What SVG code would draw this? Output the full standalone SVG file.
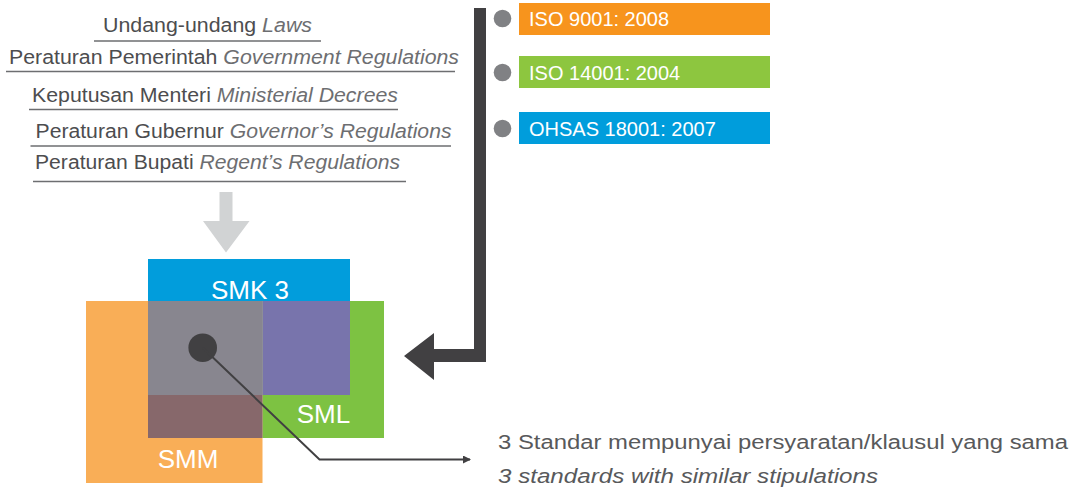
<svg xmlns="http://www.w3.org/2000/svg" width="1073" height="489" viewBox="0 0 1073 489">
<style>
.law{font-family:"Liberation Sans",Arial,sans-serif;font-size:20px;fill:#4D4D4F}
.it{font-style:italic;fill:#6D6E71}
.ul{stroke:#6D6E71;stroke-width:1.5}
.std{font-family:"Liberation Sans",Arial,sans-serif;font-size:20px;fill:#FFFFFF}
.lbl{font-family:"Liberation Sans",Arial,sans-serif;font-size:26px;fill:#FFFFFF;text-anchor:middle}
.bul{fill:#808184}
.note{font-family:"Liberation Sans",Arial,sans-serif;font-size:20px;fill:#58595B}
</style>
<defs>
<marker id="ah" markerWidth="8" markerHeight="8" refX="7" refY="4" orient="auto" markerUnits="userSpaceOnUse">
<path d="M0,0 L8,4 L0,8 Z" fill="#414042"/>
</marker>
</defs>
<rect width="1073" height="489" fill="#FFFFFF"/>

<g id="laws">
<text class="law" x="103" y="31.5" textLength="209" lengthAdjust="spacingAndGlyphs">Undang-undang <tspan class="it">Laws</tspan></text>
<line class="ul" x1="94" y1="41" x2="321" y2="41"/>
<text class="law" x="9" y="64" textLength="450" lengthAdjust="spacingAndGlyphs">Peraturan Pemerintah <tspan class="it">Government Regulations</tspan></text>
<line class="ul" x1="6" y1="71.5" x2="455" y2="71.5"/>
<text class="law" x="32" y="101.5" textLength="366" lengthAdjust="spacingAndGlyphs">Keputusan Menteri <tspan class="it">Ministerial Decrees</tspan></text>
<line class="ul" x1="29" y1="109.5" x2="398" y2="109.5"/>
<text class="law" x="35.5" y="138" textLength="416" lengthAdjust="spacingAndGlyphs">Peraturan Gubernur <tspan class="it">Governor’s Regulations</tspan></text>
<line class="ul" x1="30.5" y1="146" x2="451" y2="146"/>
<text class="law" x="35" y="168.5" textLength="365" lengthAdjust="spacingAndGlyphs">Peraturan Bupati <tspan class="it">Regent’s Regulations</tspan></text>
<line class="ul" x1="33" y1="181.5" x2="406" y2="181.5"/>
</g>

<g id="standards">
<circle class="bul" cx="502.5" cy="18.5" r="8.8"/>
<rect x="519" y="3" width="251" height="32" fill="#F7941D"/>
<text class="std" x="529" y="26">ISO 9001: 2008</text>
<circle class="bul" cx="502.5" cy="72.5" r="8.8"/>
<rect x="519" y="56" width="251" height="32" fill="#8DC63F"/>
<text class="std" x="529" y="80">ISO 14001: 2004</text>
<circle class="bul" cx="502.5" cy="128.5" r="8.8"/>
<rect x="519" y="112" width="251" height="32" fill="#009DDC"/>
<text class="std" x="529" y="135.5">OHSAS 18001: 2007</text>
</g>

<g id="venn">
<rect x="148" y="259" width="202" height="42" fill="#019DDC"/>
<rect x="86" y="301" width="176.5" height="182" fill="#F9AE57"/>
<rect x="262.5" y="301" width="121.5" height="137" fill="#7DC242"/>
<rect x="148" y="301" width="114.5" height="94" fill="#88868F"/>
<rect x="262.5" y="301" width="87.5" height="94" fill="#7874AC"/>
<rect x="148" y="395" width="114.5" height="43" fill="#87686B"/>
<text class="lbl" x="250" y="299">SMK 3</text>
<text class="lbl" x="323.5" y="423">SML</text>
<text class="lbl" x="188" y="468">SMM</text>
<circle cx="202.7" cy="347.7" r="14.3" fill="#414042"/>
</g>

<g id="connectors">
<path d="M219.5,192 H232.5 V221 H249.5 L226,252.5 L203,221 H219.5 Z" fill="#D1D3D4"/>
<path d="M474,8 H486 V362 H434 V380 L404,356 L434,333 V349 H474 Z" fill="#414042"/>
<polyline points="202.7,347.7 319.5,459.5 470,459.5" fill="none" stroke="#414042" stroke-width="2" marker-end="url(#ah)"/>
</g>

<g id="note">
<text class="note" x="498" y="449" textLength="570" lengthAdjust="spacingAndGlyphs">3 Standar mempunyai persyaratan/klausul yang sama</text>
<text class="note" x="498" y="483" font-style="italic" fill="#6D6E71" textLength="380" lengthAdjust="spacingAndGlyphs">3 standards with similar stipulations</text>
</g>
</svg>
